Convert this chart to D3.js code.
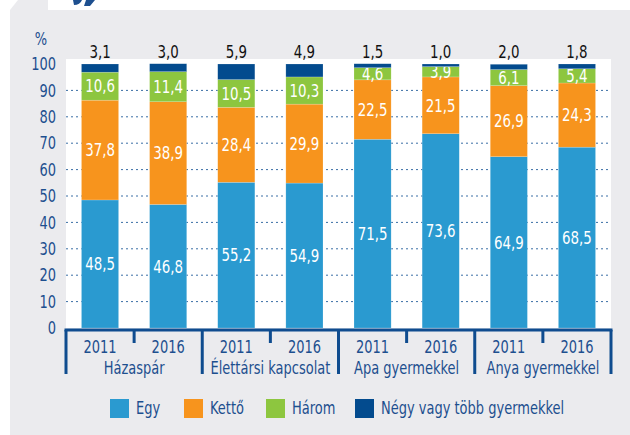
<!DOCTYPE html>
<html>
<head>
<meta charset="utf-8">
<script src="https://cdn.jsdelivr.net/npm/d3@7"></script>
<style>
  body { margin: 0; background: #fff; }
  svg text { font-family: "DejaVu Sans Condensed", "Liberation Sans Narrow", sans-serif; }
</style>
</head>
<body>
<div id="chart"></div>
<script>
// data
const years = ['2011', '2016', '2011', '2016', '2011', '2016', '2011', '2016'];
const groups = ['Házaspár', 'Élettársi kapcsolat', 'Apa gyermekkel', 'Anya gyermekkel'];
const seriesNames = ['Egy', 'Kettő', 'Három', 'Négy vagy több gyermekkel'];
const egy = [48.5, 46.8, 55.2, 54.9, 71.5, 73.6, 64.9, 68.5];
const ketto = [37.8, 38.9, 28.4, 29.9, 22.5, 21.5, 26.9, 24.3];
const harom = [10.6, 11.4, 10.5, 10.3, 4.6, 3.9, 6.1, 5.4];
const negy = [3.1, 3.0, 5.9, 4.9, 1.5, 1.0, 2.0, 1.8];
const yTicks = [0, 10, 20, 30, 40, 50, 60, 70, 80, 90, 100];

const colors = ['#2a9ad0', '#f7941d', '#8dc63f', '#034b8e'];
const textBlue = '#1d4f8f';

let width = 630;
let height = 435;
let squeeze = 0.85;

// squeeze text horizontally, the original uses a condensed face
function condense(sel, f) {
    sel.each(function() {
        let w = this.getComputedTextLength();
        d3.select(this)
            .attr('textLength', w * f)
            .attr('lengthAdjust', 'spacingAndGlyphs');
    });
}

let svg = d3.select('#chart')
    .append('svg')
    .attr('width', width)
    .attr('height', height);

// background panel
svg.append('rect')
    .attr('x', 10).attr('y', 10)
    .attr('width', width - 10).attr('height', height - 10)
    .attr('fill', '#ebebee');
svg.append('path')
    .attr('d', 'M10,10 L18,0 L48,0 L48,10 Z')
    .attr('fill', '#ebebee');
// cut off title (only its lower edge shows)
svg.append('path')
    .attr('d', 'M73,0 L82,0 Q80,5 74,5 Z M86,0 L95,0 L90,6 L84,6 Z')
    .attr('fill', textBlue);

const plotL = 66, plotR = 611, plotT = 64, plotB = 328;

svg.append('rect')
    .attr('x', plotL).attr('y', 59)
    .attr('width', plotR - plotL).attr('height', plotB - 59)
    .attr('fill', '#fff');

const x = d3.scaleBand()
    .domain(d3.range(years.length))
    .range([plotL, plotR])
    .paddingInner(0.455)
    .paddingOuter(0.227);

const y = d3.scaleLinear()
    .domain([0, 100])
    .range([plotB, plotT]);

// gridlines
svg.append('g')
    .selectAll('line')
    .data(yTicks.filter(d => d > 0 && d < 100))
    .join('line')
    .attr('x1', plotL).attr('x2', plotR)
    .attr('y1', d => y(d)).attr('y2', d => y(d))
    .attr('stroke', '#3a6ea5')
    .attr('stroke-width', 1)
    .attr('stroke-dasharray', '2,3');

// y axis labels
svg.append('g')
    .selectAll('text')
    .data(yTicks)
    .join('text')
    .attr('x', 56)
    .attr('y', d => y(d))
    .attr('dy', '0.36em')
    .attr('text-anchor', 'end')
    .attr('font-size', 17)
    .attr('fill', textBlue)
    .text(d => d)
    .call(condense, squeeze);
svg.append('text')
    .attr('x', 41).attr('y', 39)
    .attr('dy', '0.36em')
    .attr('text-anchor', 'middle')
    .attr('font-size', 17)
    .attr('fill', textBlue)
    .text('%')
    .call(condense, squeeze);

// stacking
const table = years.map((yr, i) => ({ i: i, s0: egy[i], s1: ketto[i], s2: harom[i], s3: negy[i] }));
const stack = d3.stack().keys(['s0', 's1', 's2', 's3']);
const layers = stack(table);

layers.forEach((layer, k) => {
    let g = svg.append('g');
    g.selectAll('rect')
        .data(layer)
        .join('rect')
        .attr('x', d => x(d.data.i))
        .attr('width', x.bandwidth())
        .attr('y', d => y(d[1]))
        .attr('height', d => y(d[0]) - y(d[1]))
        .attr('fill', colors[k])
        .attr('stroke', '#fff')
        .attr('stroke-opacity', 0.35)
        .attr('stroke-width', 0.5);
    if (k < 3) {
        g.selectAll('text')
            .data(layer)
            .join('text')
            .attr('x', d => x(d.data.i) + x.bandwidth() / 2)
            .attr('y', d => y((d[0] + d[1]) / 2))
            .attr('dy', '0.36em')
            .attr('text-anchor', 'middle')
            .attr('font-size', 17.5)
            .attr('fill', '#fff')
            .text(d => d3.format('.1f')(d[1] - d[0]).replace('.', ','))
            .call(condense, squeeze);
    } else {
        g.selectAll('text')
            .data(layer)
            .join('text')
            .attr('x', d => x(d.data.i) + x.bandwidth() / 2)
            .attr('y', 52)
            .attr('dy', '0.36em')
            .attr('text-anchor', 'middle')
            .attr('font-size', 17.5)
            .attr('fill', '#111')
            .text(d => negy[d.data.i].toFixed(1).replace('.', ','))
            .call(condense, squeeze);
    }
});

// category axis
const axisY = 330;
const axis = svg.append('g')
    .attr('stroke', '#0f4c8f')
    .attr('fill', 'none');
axis.append('line')
    .attr('x1', plotL - 1.5).attr('x2', plotR + 1.5)
    .attr('y1', axisY).attr('y2', axisY)
    .attr('stroke-width', 3);
d3.range(years.length + 1).forEach(i => {
    let xp = plotL + i * (plotR - plotL) / years.length;
    axis.append('line')
        .attr('x1', xp).attr('x2', xp)
        .attr('y1', axisY).attr('y2', i % 2 === 0 ? 374 : 343)
        .attr('stroke-width', 3);
});

svg.append('g')
    .selectAll('text')
    .data(years)
    .join('text')
    .attr('x', (d, i) => x(i) + x.bandwidth() / 2)
    .attr('y', 347)
    .attr('dy', '0.36em')
    .attr('text-anchor', 'middle')
    .attr('font-size', 17)
    .attr('fill', textBlue)
    .text(d => d)
    .call(condense, squeeze);

svg.append('g')
    .selectAll('text')
    .data(groups)
    .join('text')
    .attr('x', (d, i) => plotL + (i * 2 + 1) * (plotR - plotL) / years.length)
    .attr('y', 368)
    .attr('dy', '0.36em')
    .attr('text-anchor', 'middle')
    .attr('font-size', 17)
    .attr('fill', textBlue)
    .text(d => d)
    .call(condense, squeeze);

// legend
const legendX = [110, 184, 266, 355];
const legend = svg.append('g');
seriesNames.forEach((name, k) => {
    legend.append('rect')
        .attr('x', legendX[k]).attr('y', 399)
        .attr('width', 19).attr('height', 19)
        .attr('fill', colors[k]);
    legend.append('text')
        .attr('x', legendX[k] + 26).attr('y', 408)
        .attr('dy', '0.36em')
        .attr('font-size', 17)
        .attr('fill', textBlue)
        .text(name)
        .call(condense, squeeze);
});
</script>
</body>
</html>
